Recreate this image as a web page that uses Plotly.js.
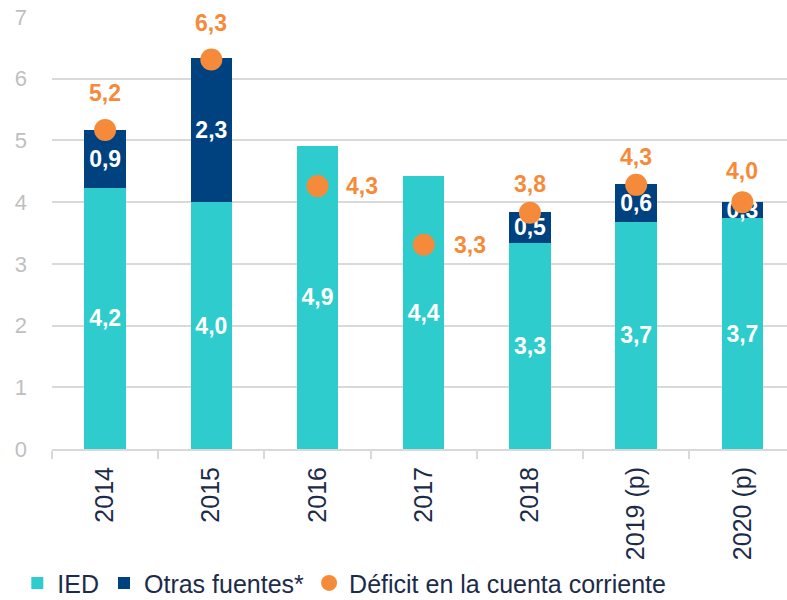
<!DOCTYPE html>
<html><head><meta charset="utf-8">
<script src="https://cdn.plot.ly/plotly-3.0.1.min.js"></script>
<style>html,body{margin:0;padding:0;background:#fff}#c{width:787px;height:600px}</style>
</head><body><div id="c"></div>
<script>
const categories = ['2014','2015','2016','2017','2018','2019 (p)','2020 (p)'];
const ied = [4.23, 4.0, 4.91, 4.42, 3.34, 3.68, 3.74];
const otras = [0.94, 2.33, null, null, 0.5, 0.61, 0.27];
const deficit = [5.17, 6.31, 4.26, 3.31, 3.83, 4.28, 4.0];

const xs = categories.map((c, i) => i);
const fmt = v => v.toFixed(1).replace('.', ',');
const labelShift = [[0,37],[0,37],[44,0],[46,0],[0,29],[0,28],[0,31]];

const font = 'Liberation Sans, Arial, sans-serif';
const traces = [
  {type:'bar', name:'IED', x:xs, y:ied, width:0.39, marker:{color:'#2ECCCC'},
   text: ied.map(fmt), textposition:'inside', insidetextanchor:'middle', textangle:0,
   textfont:{color:'#FFFFFF', size:23, family:font, weight:'bold'}},
  {type:'bar', name:'Otras fuentes*', x:xs, y:otras, width:0.39, marker:{color:'#00427F'},
   text: otras.map(v => v == null ? '' : fmt(v)), textposition:'inside', insidetextanchor:'middle', textangle:0,
   textfont:{color:'#FFFFFF', size:23, family:font, weight:'bold'}},
  {type:'scatter', mode:'markers', name:'Déficit en la cuenta corriente', x:xs, y:deficit,
   marker:{color:'#F58B3A', size:22}}
];

const annotations = xs.map((x, i) => ({
  x:x, y:deficit[i], xref:'x', yref:'y', text:fmt(deficit[i]), showarrow:false,
  xshift:labelShift[i][0], yshift:labelShift[i][1],
  font:{color:'#F58B3A', size:23, family:font, weight:'bold'}
}));

const boundaries = categories.concat(['']).map((c, i) => i - 0.5);

const layout = {
  width:787, height:600,
  margin:{l:52, r:0, t:17, b:151},
  barmode:'stack',
  showlegend:true,
  hovermode:false,
  uniformtext:{mode:'show', minsize:23},
  font:{family:font},
  paper_bgcolor:'#fff', plot_bgcolor:'#fff',
  xaxis:{range:[-0.5, 6.42], tickmode:'array', tickvals:xs, ticktext:categories,
    tickangle:-90, tickfont:{size:25, color:'#1C2B4A', family:font}, ticklabelstandoff:6,
    showline:true, linecolor:'#D9D9D9', linewidth:2, ticks:'', showgrid:false, zeroline:false,
    minor:{tickmode:'array', tickvals:boundaries, ticks:'outside', ticklen:8, tickcolor:'#D9D9D9', tickwidth:2, showgrid:false},
    fixedrange:true},
  yaxis:{range:[0,7], dtick:1, tickfont:{size:22, color:'#BFBFBF', family:font},
    gridcolor:'#D9D9D9', gridwidth:2, zeroline:false, showline:false, ticks:'', ticklabelstandoff:24, fixedrange:true},
  legend:{orientation:'h', xref:'container', x:0.022, xanchor:'left', yref:'container', y:0.028, yanchor:'middle',
    font:{size:25, color:'#1C2B4A', family:font}, traceorder:'normal'},
  annotations:annotations
};
Plotly.newPlot('c', traces, layout, {displayModeBar:false, staticPlot:true});
</script></body></html>
